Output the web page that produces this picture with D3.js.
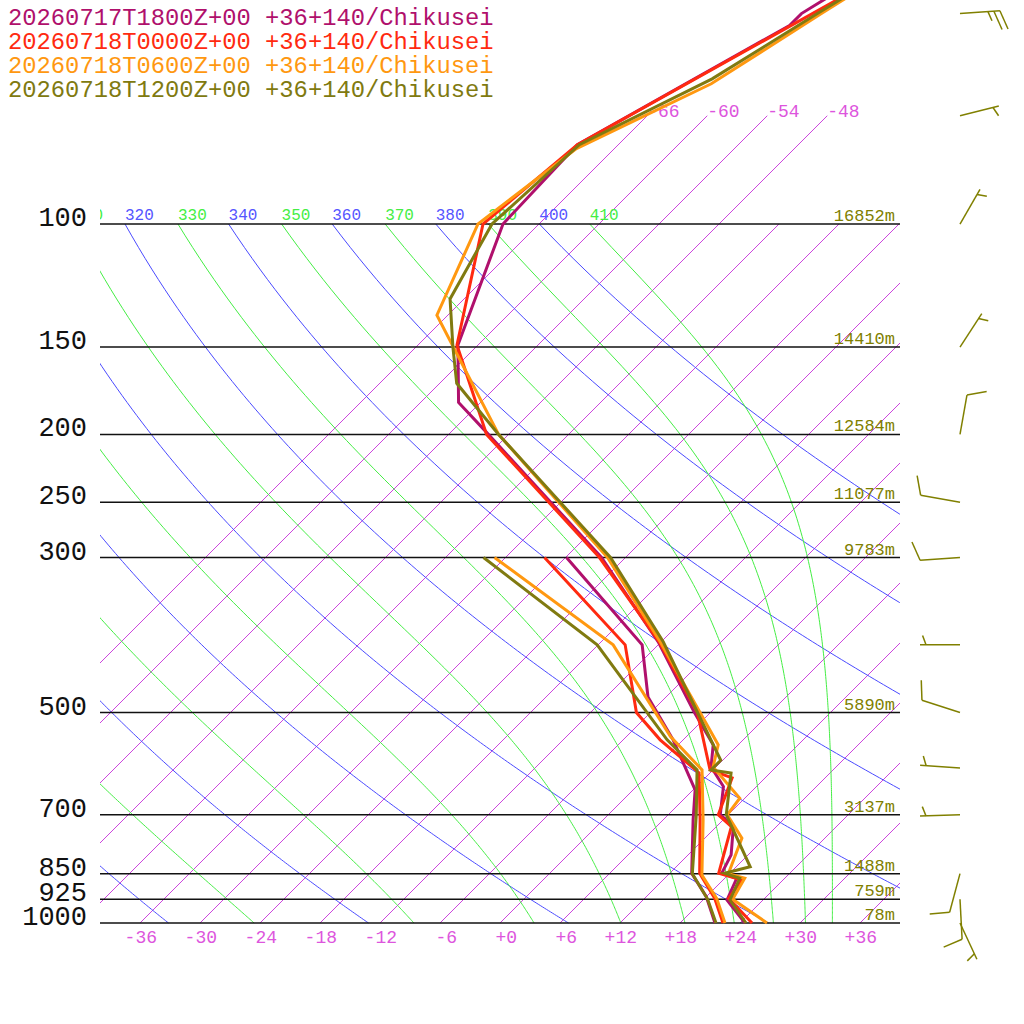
<!DOCTYPE html>
<html>
<head>
<meta charset="utf-8">
<script src="https://cdn.jsdelivr.net/npm/d3@7"></script>
<style>
  body { margin: 0; background: #fff; }
  text { font-family: "Liberation Mono", "DejaVu Sans Mono", monospace; }
</style>
</head>
<body>
<svg id="chart" width="1024" height="1024"></svg>
<script>
// mandatory pressure levels drawn as horizontal lines, with geopotential heights
const levels = [100, 150, 200, 250, 300, 500, 700, 850, 925, 1000]
const heights = ['16852m', '14410m', '12584m', '11077m', '9783m', '5890m', '3137m', '1488m', '759m', '78m']

const runs = [
  '20260717T1800Z+00 +36+140/Chikusei',
  '20260718T0000Z+00 +36+140/Chikusei',
  '20260718T0600Z+00 +36+140/Chikusei',
  '20260718T1200Z+00 +36+140/Chikusei'
]
const colors = ['#b0106c', '#ff2a10', '#ff9810', '#807a10']

// temperature profiles (hPa, degC)
const t18P = [1000, 927, 863, 849, 799, 728, 700, 638, 598, 556, 500, 396, 300, 198, 180, 149, 100, 77, 52, 50, 30]
const t18T = [24.5, 20.4, 19.2, 17.2, 16.3, 13.7, 11.2, 8.7, 5.5, 3.5, -1.6, -12.3, -26.4, -50.6, -56.2, -62.0, -69.6, -70.1, -60.8, -60.8, -51.1]
const t00P = [1000, 922, 868, 849, 728, 700, 620, 604, 500, 396, 300, 200, 149, 100, 77, 50, 30]
const t00T = [25.2, 20.4, 19.9, 16.9, 13.5, 11.0, 8.7, 5.7, -1.3, -12.2, -26.6, -50.2, -62.1, -71.6, -70.1, -59.7, -47.5]
const t06P = [1000, 925, 863, 850, 756, 700, 663, 598, 556, 396, 300, 200, 135, 100, 78, 63, 50, 30]
const t06T = [26.7, 20.9, 20.0, 17.9, 15.7, 11.9, 11.5, 5.7, 4.0, -12.1, -25.8, -49.0, -67.1, -72.1, -69.8, -62.8, -58.8, -49.7]
const t12P = [1000, 927, 863, 849, 831, 700, 610, 604, 585, 396, 300, 200, 169, 150, 128, 100, 77, 62, 50, 30]
const t12T = [24.6, 20.7, 19.5, 17.5, 19.4, 11.8, 8.1, 5.8, 5.8, -11.8, -25.5, -49.0, -58.3, -62.3, -67.4, -70.7, -69.9, -63.2, -59.2, -49.4]

// dewpoint profiles (hPa, degC)
const d18P = [1000, 917, 849, 712, 645, 547, 475, 400, 300]
const d18T = [21.5, 18.0, 14.2, 9.0, 6.2, -1.0, -7.8, -13.6, -29.9]
const d00P = [1000, 922, 849, 712, 610, 547, 500, 400, 300]
const d00T = [22.3, 19.0, 15.0, 9.7, 4.9, -2.3, -7.4, -15.3, -32.1]
const d06P = [1000, 922, 854, 712, 604, 541, 400, 300]
const d06T = [22.5, 19.2, 15.4, 10.0, 4.9, -1.6, -16.5, -37.1]
const d12P = [1000, 925, 850, 700, 604, 547, 400, 300]
const d12T = [21.6, 18.4, 14.3, 8.8, 4.4, -1.6, -18.1, -38.2]

// winds of the last run
const barbP = [50, 70, 100, 150, 200, 250, 300, 400, 500, 600, 700, 850, 925, 1000]
const barbDir = [86, 76, 30, 33, 10, 280, 266, 270, 288, 274, 268, 195, 177, 155]
const barbKt = [25, 5, 5, 5, 10, 10, 10, 5, 10, 5, 5, 10, 10, 5]

// reference lines
const isotherms = d3.range(-66, 37, 6)
const isoLabels = [-66, -60, -54, -48]
const tickT = d3.range(-36, 37, 6)
const dryTheta = d3.range(240, 401, 20)
const moistTheta = d3.range(250, 411, 20)

const svg = d3.select('#chart')

const y = d3.scaleLog().domain([1000, 100]).range([923, 224])
const xT = d3.scaleLinear().domain([-40, 40]).range([100, 900])
const sx = (t, p) => xT(t) + (y(1000) - y(p))

svg.append('defs').append('clipPath').attr('id', 'plot')
  .append('rect').attr('x', 100).attr('y', 0).attr('width', 800).attr('height', 1024)

const bg = svg.append('g').attr('clip-path', 'url(#plot)')
const line = d3.line().x(d => sx(d[1], d[0])).y(d => y(d[0]))

// isotherms
isotherms.forEach(t => {
  const top = t <= -48 ? 70 : 100
  bg.append('path')
    .attr('d', line([[1000, t], [top, t]]))
    .attr('stroke', '#cc44dd').attr('stroke-width', 1).attr('fill', 'none')
})
isoLabels.forEach(t => {
  bg.append('text').attr('x', sx(t, 70)).attr('y', y(70) + 1)
    .attr('fill', '#dd55dd').attr('font-size', 18).text(t)
})

const pGrid = d3.range(1000, 99, -4).concat([100])

// label only where some of it falls inside the plot
function topLabel(x, txt, color) {
  if (x + 28 < 100) return
  bg.append('text').attr('x', x).attr('y', 220)
    .attr('fill', color).attr('font-size', 16).text(txt)
}

// dry adiabats
const dryT = (th, p) => th * Math.pow(p / 1000, 0.2857) - 273.15
dryTheta.forEach(th => {
  bg.append('path')
    .attr('d', line(pGrid.map(p => [p, dryT(th, p)])))
    .attr('stroke', '#4a4aff').attr('stroke-width', 1).attr('fill', 'none')
  topLabel(sx(dryT(th, 100), 100), th, '#5555ff')
})

// moist adiabats (Bolton theta-e, solved for saturated T)
function thetaE(T, p) {
  const t = T - 273.15
  const e = 6.112 * Math.exp(17.67 * t / (t + 243.5))
  if (e > p * 0.5) return Infinity
  const r = 622 * e / (p - e)
  return T * Math.pow(1000 / p, 0.2854 * (1 - 0.00028 * r)) *
    Math.exp((3.376 / T - 0.00254) * r * (1 + 0.00081 * r))
}
function moistT(the, p) {
  let lo = 150, hi = 340
  for (let i = 0; i < 50; i++) {
    const mid = (lo + hi) / 2
    if (thetaE(mid, p) > the) hi = mid
    else lo = mid
  }
  return (lo + hi) / 2 - 273.15
}
moistTheta.forEach(th => {
  bg.append('path')
    .attr('d', line(pGrid.map(p => [p, moistT(th, p)])))
    .attr('stroke', '#44ee44').attr('stroke-width', 1).attr('fill', 'none')
  topLabel(sx(moistT(th, 100), 100), th, '#44ee44')
})

// pressure lines and labels
levels.forEach((p, i) => {
  svg.append('line')
    .attr('x1', 100).attr('x2', 900).attr('y1', y(p)).attr('y2', y(p))
    .attr('stroke', '#111').attr('stroke-width', 1.5)
  svg.append('text').attr('x', 87).attr('y', y(p) + 2)
    .attr('text-anchor', 'end').attr('font-size', 27).attr('fill', '#111').text(p)
  svg.append('text').attr('x', 895).attr('y', y(p) - 3)
    .attr('text-anchor', 'end').attr('font-size', 17).attr('fill', '#808000').text(heights[i])
})

// temperature ticks along the bottom
tickT.forEach(t => {
  svg.append('text').attr('x', xT(t) + 17).attr('y', 943)
    .attr('text-anchor', 'end').attr('font-size', 18).attr('fill', '#dd55dd')
    .text((t >= 0 ? '+' : '') + t)
})

// soundings
const temps = [[t18P, t18T], [t00P, t00T], [t06P, t06T], [t12P, t12T]]
const dews = [[d18P, d18T], [d00P, d00T], [d06P, d06T], [d12P, d12T]]
temps.forEach((s, i) => {
  const dp = dews[i]
  svg.append('path')
    .attr('d', line(dp[0].map((p, j) => [p, dp[1][j]])))
    .attr('stroke', colors[i]).attr('stroke-width', 3).attr('fill', 'none')
  svg.append('path')
    .attr('d', line(s[0].map((p, j) => [p, s[1][j]])))
    .attr('stroke', colors[i]).attr('stroke-width', 3).attr('fill', 'none')
})

// legend
runs.forEach((r, i) => {
  svg.append('text').attr('x', 8).attr('y', 25 + 24 * i)
    .attr('font-size', 23.8).attr('fill', colors[i]).text(r)
})

// wind barbs
const rot = (v, a) => [v[0] * Math.cos(a) - v[1] * Math.sin(a), v[0] * Math.sin(a) + v[1] * Math.cos(a)]
barbP.forEach((p, i) => {
  const a = barbDir[i] * Math.PI / 180
  const v = [Math.sin(a), -Math.cos(a)]
  const bx = 960, by = y(p)
  const tx = bx + 40 * v[0], ty = by + 40 * v[1]
  const g = svg.append('g').attr('stroke', '#808000').attr('stroke-width', 1.5)
  g.append('line').attr('x1', bx).attr('y1', by).attr('x2', tx).attr('y2', ty)
  const f = rot(v, 70 * Math.PI / 180)
  let kt = barbKt[i], k = 0
  if (kt < 10) k = 1
  while (kt >= 5) {
    const len = kt >= 10 ? 20 : 10
    const px = tx - 6 * k * v[0], py = ty - 6 * k * v[1]
    g.append('line').attr('x1', px).attr('y1', py)
      .attr('x2', px + len * f[0]).attr('y2', py + len * f[1])
    kt -= kt >= 10 ? 10 : 5
    k++
  }
})
</script>
</body>
</html>
